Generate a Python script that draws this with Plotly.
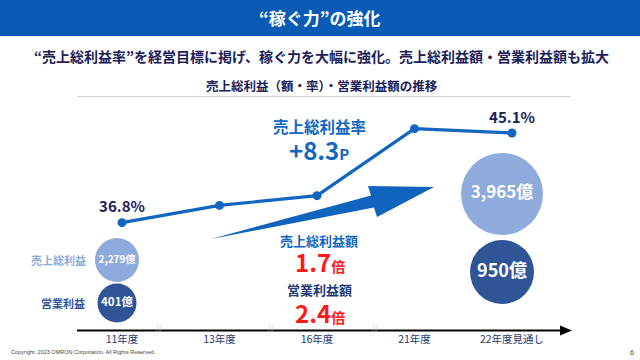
import plotly.graph_objects as go

# ---------------- data ----------------
years = ["11年度", "13年度", "16年度", "21年度", "22年度見通し"]
gross_margin_pct = [36.8, 38.4, 39.3, 45.5, 45.1]

circle_years = ["11年度", "22年度見通し"]
gross_profit_oku = [2279, 3965]
operating_profit_oku = [401, 950]

# ---------------- helpers / style ----------------
W, H = 640, 360
FONT = "Noto Sans CJK JP"
NAVY = "#1b2157"
BLUE = "#1166c0"
LIGHT = "#8faadc"
DARK = "#2f5597"
RED = "#ff1a1a"


def px(x):
    return x / W


def py(y):
    return 1 - y / H


fig = go.Figure()

# gross profit margin line
labels = [f"{v:.1f}%" if i in (0, len(gross_margin_pct) - 1) else "" for i, v in enumerate(gross_margin_pct)]
fig.add_trace(go.Scatter(
    x=years, y=gross_margin_pct, mode="lines+markers+text",
    line=dict(color=BLUE, width=3.2), marker=dict(size=9, color=BLUE),
    text=labels, textposition="top center",
    textfont=dict(family=FONT, size=15, color=NAVY, weight="bold"),
    cliponaxis=False, hoverinfo="skip", showlegend=False,
    xaxis="x", yaxis="y",
))

# circles (placed on a hidden pixel-row axis)
gp_rows = [260, 194]
op_rows = [303, 272]
fig.add_trace(go.Scatter(
    x=circle_years, y=gp_rows, mode="markers+text", opacity=1,
    marker=dict(size=[44, 82], color=LIGHT, opacity=1, line=dict(width=0)),
    text=[f"{v:,}億" for v in gross_profit_oku], textposition="middle center",
    textfont=dict(family=FONT, size=[10, 17], color="white", weight="bold"),
    cliponaxis=False, hoverinfo="skip", showlegend=False,
    xaxis="x2", yaxis="y2",
))
fig.add_trace(go.Scatter(
    x=circle_years, y=op_rows, mode="markers+text", opacity=1,
    marker=dict(size=[39, 64], color=DARK, opacity=1, line=dict(width=0)),
    text=[f"{v:,}億" for v in operating_profit_oku], textposition="middle center",
    textfont=dict(family=FONT, size=[11.5, 18], color="white", weight="bold"),
    cliponaxis=False, hoverinfo="skip", showlegend=False,
    xaxis="x2", yaxis="y2",
))

# ---------------- shapes ----------------
shapes = []
# title bar
shapes.append(dict(type="rect", xref="paper", yref="paper", x0=0, x1=1, y0=py(36), y1=1,
                   fillcolor="#0a5bb5", line=dict(width=0), layer="below"))
# chart title underline
shapes.append(dict(type="line", xref="paper", yref="paper", x0=px(78), x1=px(570), y0=py(96.5), y1=py(96.5),
                   line=dict(color="#c9cfdc", width=1)))
# x axis line with arrow
shapes.append(dict(type="line", xref="paper", yref="paper", x0=px(77), x1=px(562), y0=py(330.5), y1=py(330.5),
                   line=dict(color="black", width=2)))
shapes.append(dict(type="path", xref="paper", yref="paper",
                   path=f"M {px(560)} {py(325.5)} L {px(572)} {py(330.5)} L {px(560)} {py(335.5)} Z",
                   fillcolor="black", line=dict(width=0)))
# big growth arrow
arrow_pts = [(211, 239), (371, 195.5), (368, 186), (434, 187), (377, 217), (374, 207.5)]
path = "M " + " L ".join(f"{px(x)} {py(y)}" for x, y in arrow_pts) + " Z"
shapes.append(dict(type="path", xref="paper", yref="paper", path=path,
                   fillcolor="#1064bd", line=dict(width=0)))

# ---------------- annotations ----------------
ann = []


def note(text, x, y, size, color, xanchor="center", bold=True):
    ann.append(dict(text=f"<b>{text}</b>" if bold else text, x=px(x), y=py(y), xref="paper", yref="paper",
                    xanchor=xanchor, yanchor="middle", showarrow=False,
                    font=dict(family=FONT, size=size, color=color)))


note("“稼ぐ力”の強化", 320, 17, 17, "white")
note("“売上総利益率”を経営目標に掲げ、稼ぐ力を大幅に強化。売上総利益額・営業利益額も拡大", 321, 56, 14, NAVY)
note("売上総利益（額・率）・営業利益額の推移", 322, 85, 12.5, NAVY)

gain = gross_margin_pct[-1] - gross_margin_pct[0]
note("売上総利益率", 319, 126, 15.5, BLUE)
note(f"+{gain:.1f}<span style='font-size:15px'>P</span>", 319, 149.5, 24, BLUE)

gp_mult = gross_profit_oku[-1] / gross_profit_oku[0]
op_mult = operating_profit_oku[-1] / operating_profit_oku[0]
note("売上総利益額", 319, 240, 13, BLUE)
note(f"{gp_mult:.1f}<span style='font-size:14px'>倍</span>", 320, 261, 24, RED)
note("営業利益額", 319, 289.5, 13, "#1f3a78")
note(f"{op_mult:.1f}<span style='font-size:14px'>倍</span>", 320, 312.5, 24, RED)

note("売上総利益", 58.5, 260, 11, LIGHT)
note("営業利益", 62.5, 303, 11, DARK)

for bx in (159, 271, 375):
    note("//", bx, 326.5, 8, "#c4c4c4", bold=False)

ann.append(dict(text="Copyright: 2023 OMRON Corporation. All Rights Reserved.", x=px(9), y=py(352),
                xref="paper", yref="paper", xanchor="left", yanchor="middle", showarrow=False,
                font=dict(family="Liberation Sans", size=5.5, color="#444444")))
ann.append(dict(text="6", x=px(632), y=py(352), xref="paper", yref="paper", xanchor="center",
                yanchor="middle", showarrow=False, font=dict(family="Liberation Sans", size=7, color="#444444")))

# ---------------- layout ----------------
x_start, x_step = 122.0, 97.5
fig.update_layout(
    width=W, height=H, margin=dict(l=0, r=0, t=0, b=0),
    paper_bgcolor="white", plot_bgcolor="rgba(0,0,0,0)",
    shapes=shapes, annotations=ann,
    xaxis=dict(type="category", categoryorder="array", categoryarray=years, range=[-0.5, 4.5],
               domain=[px(x_start - x_step / 2), px(x_start + 4.5 * x_step)],
               anchor="free", position=py(331), showgrid=False, zeroline=False, showline=False,
               ticks="", tickfont=dict(family=FONT, size=10.5, color="#1f3a6e")),
    yaxis=dict(range=[30, 50], domain=[py(296.2), py(80.0)], visible=False, fixedrange=True),
    xaxis2=dict(type="category", categoryorder="array", categoryarray=years, range=[-0.5, 4.5],
                domain=[px(117 - 96.25 / 2), px(117 + 4.5 * 96.25)], anchor="y2", visible=False),
    yaxis2=dict(range=[H, 0], domain=[0, 1], anchor="x2", visible=False),
)

fig.write_html("out.html", config={"displayModeBar": False},
               post_script="document.body.style.margin='0';document.body.style.overflow='hidden';")
